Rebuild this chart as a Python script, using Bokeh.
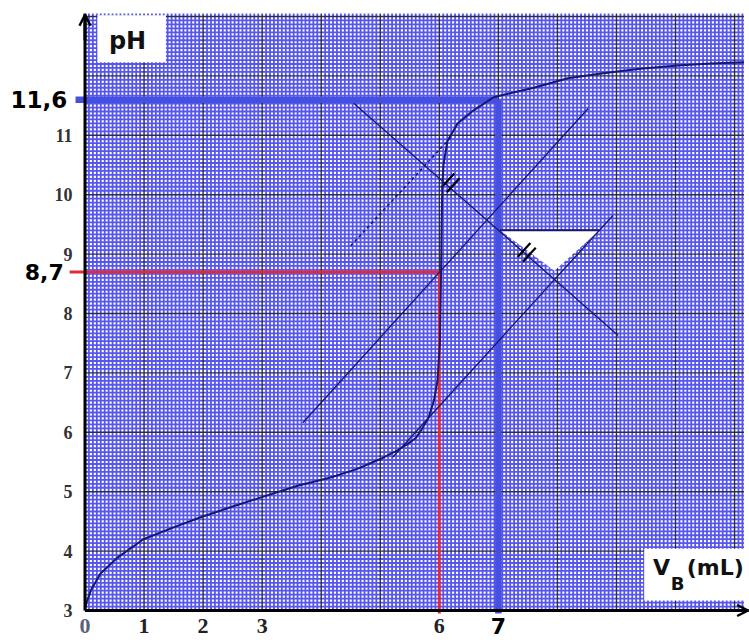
import numpy as np
from bokeh.plotting import figure
from bokeh.models import Arrow, OpenHead
from bokeh.core.properties import value
from bokeh.embed import file_html
from bokeh.resources import INLINE

# ---- titration curve: V_B (mL) vs pH ----
vb_ml = [0.0, 0.03, 0.1, 0.26, 0.55, 0.99, 1.5, 1.96, 2.5, 2.97, 3.6, 4.16, 4.6, 5.0,
         5.3, 5.47, 5.6, 5.69, 5.82, 5.91, 5.97, 6.01, 6.03, 6.04, 6.05, 6.07, 6.14,
         6.31, 6.58, 6.92, 7.16, 7.6, 8.18, 8.74, 9.4, 10.09, 10.6, 11.16]
ph = [3.0, 3.15, 3.34, 3.62, 3.89, 4.2, 4.4, 4.57, 4.75, 4.9, 5.1, 5.24, 5.38, 5.55,
      5.7, 5.81, 5.9, 6.03, 6.25, 6.54, 6.87, 7.5, 8.7, 9.5, 10.1, 10.5, 10.91,
      11.2, 11.42, 11.64, 11.7, 11.8, 11.96, 12.04, 12.12, 12.18, 12.21, 12.23]

# axis tick labels
y_ticks = [3, 4, 5, 6, 7, 8, 9, 10, 11]
x_ticks = [0, 1, 2, 3, 6]

# equivalence point (red) and read point (blue)
eq_v, eq_ph = 6.0, 8.7
read_v, read_ph = 7.0, 11.6

# parallel-tangent construction
lower_tan_x, lower_tan_y = [5.21, 8.94], [5.58, 9.65]
median_x, median_y = [3.69, 8.52], [6.16, 11.45]
upper_tan_x, upper_tan_y = [4.5, 6.2], [9.14, 10.97]
perp_x, perp_y = [4.55, 9.03], [11.54, 7.63]
tri_x, tri_y = [7.03, 8.71, 7.95], [9.40, 9.40, 8.72]
tick_cx, tick_cy = [6.19, 7.48], [10.2, 9.03]

# paper extent
X0, X_PAPER = 0.0, 11.16
Y0, Y_PAPER = 3.0, 13.05
NAVY = "#17176c"

p = figure(width=749, height=640, x_range=(-1.431, 11.253), y_range=(2.495, 13.269),
           output_backend="svg", toolbar_location=None, x_axis_type=None, y_axis_type=None,
           min_border_left=0, min_border_right=0, min_border_top=0, min_border_bottom=0)
p.outline_line_color = None
p.background_fill_color = "white"
p.border_fill_color = "white"
p.grid.visible = False

# ---- graph paper ----
minor = 1 / 15
mx = [v for v in np.arange(X0, X_PAPER + 1e-9, minor) if abs(v - round(v)) > 1e-6]
my = [v for v in np.arange(Y0, Y_PAPER + 1e-9, minor) if abs(v - round(v)) > 1e-6]
p.segment(x0=mx, y0=[Y0] * len(mx), x1=mx, y1=[Y_PAPER] * len(mx), line_color="#5656ee", line_width=1.8)
p.segment(x0=[X0] * len(my), y0=my, x1=[X_PAPER] * len(my), y1=my, line_color="#5656ee", line_width=1.8)
Mx = list(range(1, int(X_PAPER) + 1))
My = list(range(4, int(Y_PAPER) + 1))
p.segment(x0=Mx, y0=[Y0] * len(Mx), x1=Mx, y1=[Y_PAPER] * len(Mx), line_color="#2c2c48", line_width=1.4)
p.segment(x0=[X0] * len(My), y0=My, x1=[X_PAPER] * len(My), y1=My, line_color="#2c2c48", line_width=1.4)

# white label boxes and triangle
p.quad(left=[0.21], right=[1.37], bottom=[12.23], top=[13.02], fill_color="white", line_color=None)
p.quad(left=[9.47], right=[X_PAPER + 0.05], bottom=[3.17], top=[4.04], fill_color="white", line_color=None)
p.patch(tri_x, tri_y, fill_color="white", line_color=None)

# red and blue reading lines
p.segment(x0=[-0.26, eq_v], y0=[eq_ph, 2.95], x1=[eq_v, eq_v], y1=[eq_ph, eq_ph],
          line_color="#e3283a", line_width=3)
p.segment(x0=[-0.16, read_v], y0=[read_ph, 2.95], x1=[read_v, read_v], y1=[read_ph, read_ph],
          line_color="#4650e0", line_width=6.5)

# construction lines
p.line(lower_tan_x, lower_tan_y, line_color=NAVY, line_width=1.3)
p.line(median_x, median_y, line_color=NAVY, line_width=1.3)
p.line(perp_x, perp_y, line_color=NAVY, line_width=1.3)
p.line(upper_tan_x, upper_tan_y, line_color=NAVY, line_width=1.6, line_dash="3 3")
p.segment(x0=[tri_x[0]], y0=[tri_y[0]], x1=[tri_x[1]], y1=[tri_y[1]], line_color=NAVY, line_width=2)

# equal-length tick marks (//)
dx, dy = 0.676, 0.737   # along tangents
ox, oy = 0.753, -0.658  # along perpendicular
L, O = 0.16, 0.06
x0s, y0s, x1s, y1s = [], [], [], []
for cx, cy in zip(tick_cx, tick_cy):
    for s in (-1, 1):
        bx, by = cx + s * O * ox, cy + s * O * oy
        x0s.append(bx - L * dx); y0s.append(by - L * dy)
        x1s.append(bx + L * dx); y1s.append(by + L * dy)
p.segment(x0=x0s, y0=y0s, x1=x1s, y1=y1s, line_color="black", line_width=2.2)

# titration curve
p.line(vb_ml, ph, line_color=NAVY, line_width=2)

# axes with arrows
p.segment(x0=[X0, X0], y0=[Y0, Y0], x1=[X0, X_PAPER + 0.08], y1=[Y_PAPER, Y0],
          line_color="black", line_width=3)
p.add_layout(Arrow(end=OpenHead(size=11, line_width=2.5, line_color="black"),
                   x_start=X0, y_start=12.6, x_end=X0, y_end=13.03, line_width=3, line_color="black"))
p.add_layout(Arrow(end=OpenHead(size=11, line_width=2.5, line_color="black"),
                   x_start=10.8, y_start=Y0, x_end=11.23, y_end=Y0, line_width=3, line_color="black"))

# tick labels
p.text(x=[-0.21] * len(y_ticks), y=y_ticks, text=[str(v) for v in y_ticks],
       text_font=value("Liberation Serif"), text_font_style="bold", text_font_size="18px",
       text_align="right", text_baseline="middle", text_color="#333333")
p.text(x=x_ticks, y=[2.74] * len(x_ticks), text=[str(v) for v in x_ticks],
       text_font=value("Liberation Serif"), text_font_style="bold", text_font_size="22px",
       text_align="center", text_baseline="middle",
       text_color=["#5a6080", "#222222", "#222222", "#222222", "#222222"])
p.text(x=[read_v], y=[2.74], text=["7"], text_font=value("DejaVu Sans"), text_font_style="bold",
       text_font_size="22px", text_align="center", text_baseline="middle", text_color="black")
p.text(x=[-0.30], y=[read_ph], text=["11,6"], text_font=value("DejaVu Sans"), text_font_style="bold",
       text_font_size="23px", text_align="right", text_baseline="middle", text_color="black")
p.text(x=[-0.36], y=[eq_ph], text=["8,7"], text_font=value("DejaVu Sans"), text_font_style="bold",
       text_font_size="22px", text_align="right", text_baseline="middle", text_color="black")

# axis titles
p.text(x=[0.72], y=[12.58], text=["pH"], text_font=value("DejaVu Sans"), text_font_style="bold",
       text_font_size="24px", text_align="center", text_baseline="middle", text_color="#111111")
p.text(x=[9.62], y=[3.72], text=["V"], text_font=value("DejaVu Sans"), text_font_style="bold",
       text_font_size="22px", text_align="left", text_baseline="middle", text_color="#111111")
p.text(x=[9.92], y=[3.45], text=["B"], text_font=value("DejaVu Sans"), text_font_style="bold",
       text_font_size="18px", text_align="left", text_baseline="middle", text_color="#111111")
p.text(x=[10.19], y=[3.72], text=["(mL)"], text_font=value("DejaVu Sans"), text_font_style="bold",
       text_font_size="22px", text_align="left", text_baseline="middle", text_color="#111111")

open("out.html", "w").write(file_html(p, INLINE))
